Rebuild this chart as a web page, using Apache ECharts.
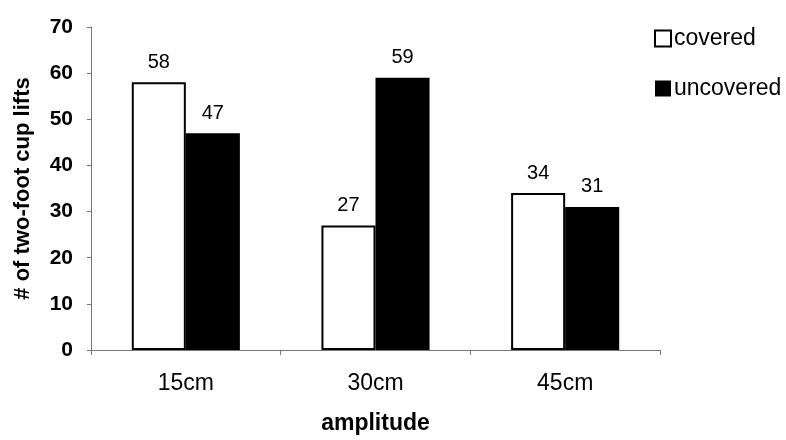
<!DOCTYPE html>
<html>
<head>
<meta charset="utf-8">
<script src="https://cdn.jsdelivr.net/npm/echarts@6/dist/echarts.min.js"></script>
<style>
  html, body { margin: 0; padding: 0; background: #fff; }
  #chart { width: 786px; height: 440px; }
</style>
</head>
<body>
<div id="chart"></div>
<script>
// Two-foot cup lifts per amplitude, covered vs uncovered
const categories = ['15cm', '30cm', '45cm'];
const coveredValues = [58, 27, 34];
const uncoveredValues = [47, 59, 31];
const seriesNames = ['covered', 'uncovered'];

const FONT = 'Liberation Sans, Arial, sans-serif';

const chart = echarts.init(document.getElementById('chart'), null, { renderer: 'canvas' });

const labelStyle = {
  show: true,
  position: 'top',
  distance: 10,
  color: '#000',
  fontFamily: FONT,
  fontSize: 20
};

chart.setOption({
  animation: false,
  backgroundColor: '#fff',
  grid: { left: 91, right: 126, top: 27, bottom: 84, containLabel: false },
  legend: {
    orient: 'vertical',
    left: 649,
    top: 22,
    itemWidth: 16,
    itemHeight: 16,
    itemGap: 27,
    icon: 'rect',
    textStyle: { color: '#000', fontFamily: FONT, fontSize: 23, padding: [0, 0, 0, -2] },
    data: [
      { name: seriesNames[0], itemStyle: { color: '#fff', borderColor: '#000', borderWidth: 2 } },
      { name: seriesNames[1], itemStyle: { color: '#000' } }
    ]
  },
  xAxis: {
    type: 'category',
    data: categories,
    name: 'amplitude',
    nameLocation: 'middle',
    nameGap: 62,
    nameTextStyle: { color: '#000', fontFamily: FONT, fontSize: 23, fontWeight: 'bold' },
    axisLine: { lineStyle: { color: '#777', width: 1 } },
    axisTick: { show: true, length: 5, lineStyle: { color: '#777' } },
    axisLabel: { color: '#000', fontFamily: FONT, fontSize: 23, margin: 22 },
    splitLine: { show: false }
  },
  yAxis: {
    type: 'value',
    min: 0,
    max: 70,
    interval: 10,
    name: '# of two-foot cup lifts',
    nameLocation: 'middle',
    nameRotate: 90,
    nameGap: 57,
    nameTextStyle: { color: '#000', fontFamily: FONT, fontSize: 22, fontWeight: 'bold' },
    axisLine: { show: true, lineStyle: { color: '#777', width: 1 } },
    axisTick: { show: true, length: 4, lineStyle: { color: '#777' } },
    axisLabel: { color: '#000', fontFamily: FONT, fontSize: 21, fontWeight: 'bold', margin: 18 },
    splitLine: { show: false }
  },
  series: [
    {
      name: seriesNames[0],
      type: 'bar',
      data: coveredValues,
      barWidth: '28.5%',
      barGap: '0%',
      itemStyle: { color: '#fff', borderColor: '#000', borderWidth: 2 },
      label: labelStyle
    },
    {
      name: seriesNames[1],
      type: 'bar',
      data: uncoveredValues,
      barWidth: '28.5%',
      barGap: '0%',
      itemStyle: { color: '#000' },
      label: labelStyle
    }
  ]
});
</script>
</body>
</html>
